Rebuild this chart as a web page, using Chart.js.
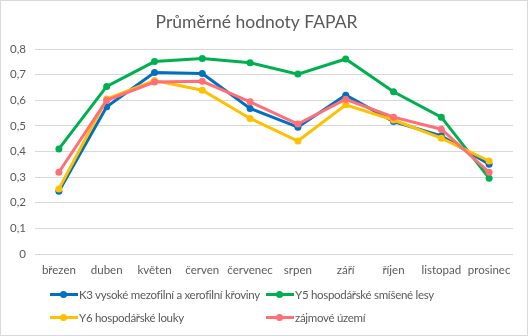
<!DOCTYPE html>
<html>
<head>
<meta charset="utf-8">
<script src="https://cdn.jsdelivr.net/npm/chart.js"></script>
<style>
    body { margin: 0; background: #fff; }
    #wrap { position: relative; width: 528px; height: 336px; font-family: Lato, "Open Sans", sans-serif; }
    #frame { position: absolute; left: 0; top: 0; width: 526px; height: 334px; border: 1px solid #d9d9d9; pointer-events: none; }
    .leg { position: absolute; height: 16px; line-height: 16px; font-size: 11.5px; letter-spacing: -0.3px; color: #595959; white-space: nowrap; }
    .leg .ln { position: absolute; left: 0; top: 6px; width: 28px; height: 3px; }
    .leg .dot { position: absolute; left: 10px; top: 4px; width: 7px; height: 7px; border-radius: 50%; }
    .leg .tx { position: absolute; left: 29px; top: 0; }
</style>
</head>
<body>
<div id="wrap">
    <canvas id="fapar" width="528" height="336"></canvas>
    <div id="legend"></div>
    <div id="frame"></div>
</div>
<script>
// měsíce
const mesice = ['březen', 'duben', 'květen', 'červen', 'červenec', 'srpen', 'září', 'říjen', 'listopad', 'prosinec'];

// průměrné hodnoty FAPAR
const k3Kroviny = [0.245, 0.575, 0.708, 0.704, 0.568, 0.495, 0.620, 0.517, 0.461, 0.350];
const y5Lesy = [0.410, 0.654, 0.751, 0.763, 0.746, 0.702, 0.761, 0.633, 0.534, 0.296];
const y6Louky = [0.254, 0.605, 0.677, 0.639, 0.529, 0.441, 0.582, 0.523, 0.452, 0.363];
const zajmoveUzemi = [0.319, 0.600, 0.671, 0.674, 0.594, 0.507, 0.604, 0.534, 0.487, 0.319];

const nazvy = ['K3 vysoké mezofilní a xerofilní křoviny', 'Y5 hospodářské smíšené lesy', 'Y6 hospodářské louky', 'zájmové území'];
const barvy = ['#0070c0', '#00b050', '#ffc000', '#ff6f75'];

function serie(i, data) {
    return {
        label: nazvy[i],
        data: data,
        borderColor: barvy[i],
        backgroundColor: barvy[i],
        borderWidth: 3,
        pointRadius: 3.5,
        pointHoverRadius: 3.5,
        pointBorderWidth: 0,
        tension: 0,
        order: 3 - i // poslední řada nahoře jako v Excelu
    };
}

const grey = '#595959';

let chart = new Chart(document.getElementById('fapar'), {
    type: 'line',
    data: {
        labels: mesice,
        datasets: [serie(0, k3Kroviny), serie(1, y5Lesy), serie(2, y6Louky), serie(3, zajmoveUzemi)]
    },
    options: {
        responsive: false,
        animation: false,
        layout: { padding: { left: 0, right: 15, top: 0, bottom: 58 } },
        plugins: {
            legend: { display: false },
            tooltip: { enabled: false },
            title: {
                display: true,
                text: 'Průměrné hodnoty FAPAR',
                color: grey,
                font: { family: 'Lato', size: 17.5, weight: 'normal', lineHeight: 1.2 },
                padding: { top: 12, bottom: 16 }
            }
        },
        scales: {
            x: {
                offset: true,
                grid: { display: false },
                border: { display: false },
                ticks: { color: grey, font: { family: 'Lato', size: 11.5 }, padding: 1, maxRotation: 0, autoSkip: false },
                afterFit: function(scale) { scale.height = 24; }
            },
            y: {
                min: 0,
                max: 0.8,
                grid: { color: '#d9d9d9', lineWidth: 1, drawTicks: false },
                border: { display: false },
                ticks: {
                    stepSize: 0.1,
                    color: grey,
                    font: { family: 'Lato', size: 11.5 },
                    padding: 9,
                    callback: function(v) { return v === 0 ? '0' : v.toFixed(1).replace('.', ','); }
                },
                afterFit: function(scale) { scale.width = 35; }
            }
        }
    }
});

// legenda ve dvou sloupcích
const pozice = [[50, 287], [266, 287], [50, 310], [266, 310]];
let legendHtml = '';
chart.data.datasets.forEach(function(ds, i) {
    legendHtml += `
        <div class="leg" style="left:${pozice[i][0]}px; top:${pozice[i][1]}px;">
            <span class="ln" style="background:${ds.borderColor}"></span>
            <span class="dot" style="background:${ds.borderColor}"></span>
            <span class="tx">${ds.label}</span>
        </div>`;
});
document.getElementById('legend').innerHTML = legendHtml;
</script>
</body>
</html>
